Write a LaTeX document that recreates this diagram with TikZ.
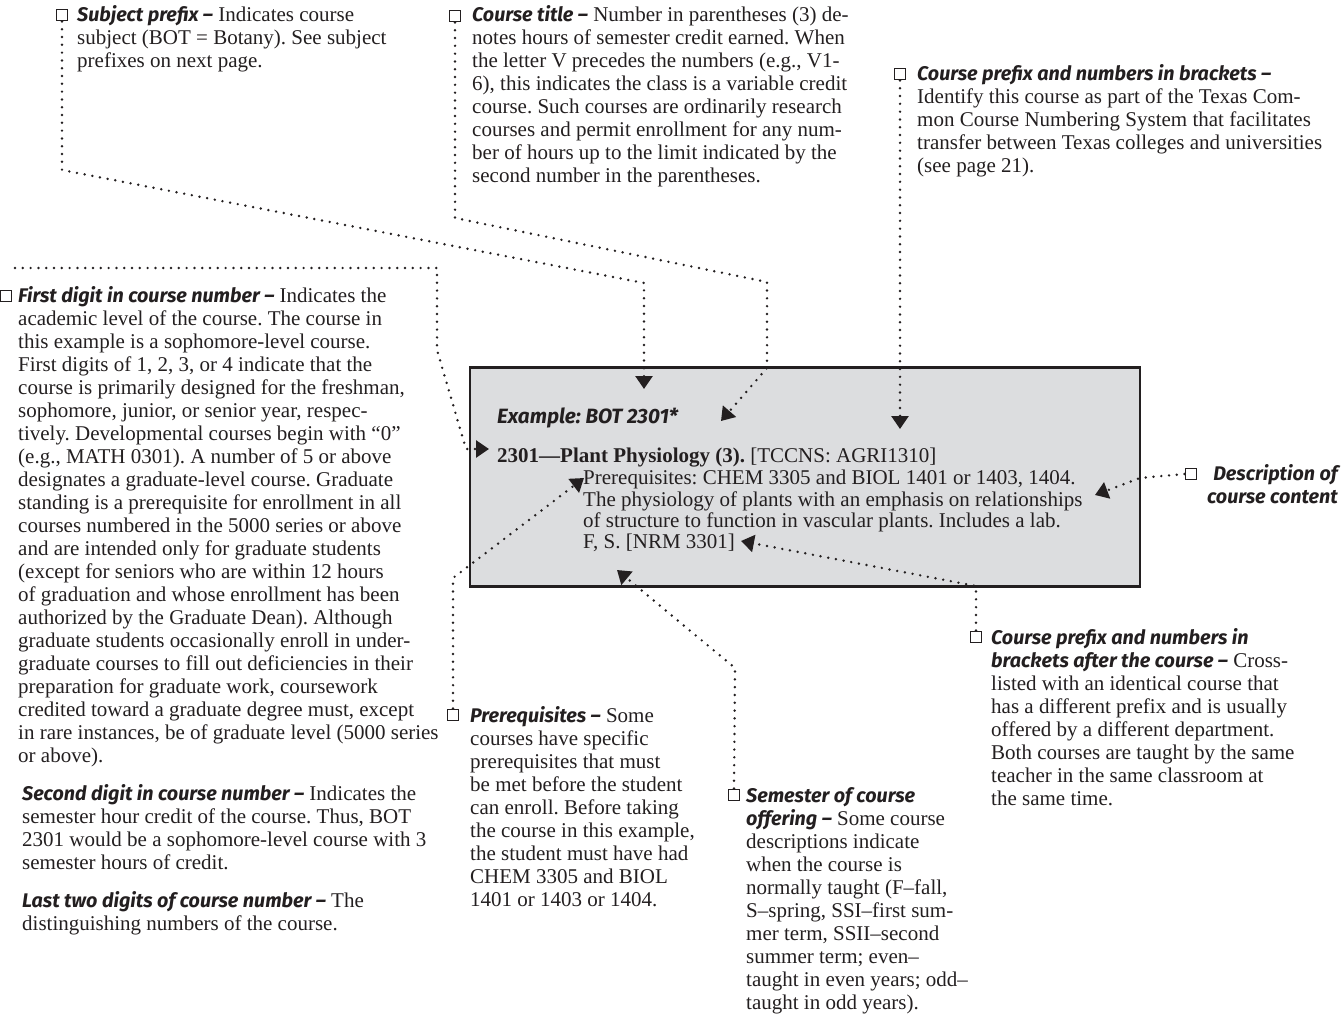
\documentclass[tikz,border=0pt]{standalone}
\usepackage{fontspec}
\setmainfont{Liberation Serif}
\setsansfont{Fira Sans}[Scale=0.94]
\usetikzlibrary{arrows.meta}
\frenchspacing

\definecolor{ink}{RGB}{35,31,32}
\definecolor{panelgray}{RGB}{220,221,223}

\newcommand{\notesize}{\fontsize{21}{23}\selectfont}
\newcommand{\panelsize}{\fontsize{21}{21}\selectfont}
\newcommand{\hd}[1]{{\sffamily\bfseries\itshape #1}}

\tikzset{
  note/.style={anchor=north west, align=left, inner sep=0pt, text=ink, font=\notesize},
  paneltext/.style={note, font=\panelsize},
  marker/.style={draw=ink, line width=1.9pt, minimum size=11pt, inner sep=0pt},
  leader/.style={draw=ink, line width=2.7pt, line cap=round, dash pattern=on 0pt off 7.8pt},
  pointer/.style={leader, -{Triangle[length=13pt,width=17pt]}},
  panel/.style={draw=ink, fill=panelgray, line width=2.6pt, minimum width=670pt,
    minimum height=219pt, inner sep=0pt},
}

\begin{document}
\begin{tikzpicture}[x=1pt,y=-1pt]
\useasboundingbox (0,0) rectangle (1344,1035);

% the sample catalogue entry
\node[panel] (panel) at (805,477) {};
\node[anchor=base west, inner sep=0pt, text=ink, font=\fontsize{22}{22}\selectfont\sffamily\bfseries\itshape]
  (example) at (497,423) {Example: BOT 2301*};
\node[anchor=base west, inner sep=0pt, text=ink, font=\panelsize]
  (entry) at (497,462) {\textbf{2301—Plant Physiology (3).} [TCCNS: AGRI1310]};
\node[paneltext] (entrybody) at (583,470) {\strut Prerequisites: CHEM 3305 and BIOL 1401 or 1403, 1404.\\
  The physiology of plants with an emphasis on relationships\\
  of structure to function in vascular plants. Includes a lab.\\
  F, S. [NRM 3301]};

% annotations
\node[note] (subject) at (77,5) {\strut\hd{Subject prefix –} Indicates course\\
  subject (BOT = Botany). See subject\\
  prefixes on next page.};
\node[note] (title) at (472,5) {\strut\hd{Course title –} Number in parentheses (3) de-\\
  notes hours of semester credit earned. When\\
  the letter V precedes the numbers (e.g., V1-\\
  6), this indicates the class is a variable credit\\
  course. Such courses are ordinarily research\\
  courses and permit enrollment for any num-\\
  ber of hours up to the limit indicated by the\\
  second number in the parentheses.};
\node[note] (tccns) at (917,64) {\strut\hd{Course prefix and numbers in brackets –}\\
  Identify this course as part of the Texas Com-\\
  mon Course Numbering System that facilitates\\
  transfer between Texas colleges and universities\\
  (see page 21).};
\node[note] (firstdigit) at (18,286) {\strut\hd{First digit in course number –} Indicates the\\
  academic level of the course. The course in\\
  this example is a sophomore-level course.\\
  First digits of 1, 2, 3, or 4 indicate that the\\
  course is primarily designed for the freshman,\\
  sophomore, junior, or senior year, respec-\\
  tively. Developmental courses begin with “0”\\
  (e.g., MATH 0301). A number of 5 or above\\
  designates a graduate-level course. Graduate\\
  standing is a prerequisite for enrollment in all\\
  courses numbered in the 5000 series or above\\
  and are intended only for graduate students\\
  (except for seniors who are within 12 hours\\
  of graduation and whose enrollment has been\\
  authorized by the Graduate Dean). Although\\
  graduate students occasionally enroll in under-\\
  graduate courses to fill out deficiencies in their\\
  preparation for graduate work, coursework\\
  credited toward a graduate degree must, except\\
  in rare instances, be of graduate level (5000 series\\
  or above).};
\node[note] (seconddigit) at (22,784) {\strut\hd{Second digit in course number –} Indicates the\\
  semester hour credit of the course. Thus, BOT\\
  2301 would be a sophomore-level course with 3\\
  semester hours of credit.};
\node[note] (lastdigits) at (22,891) {\strut\hd{Last two digits of course number –} The\\
  distinguishing numbers of the course.};
\node[note] (prereq) at (470,706) {\strut\hd{Prerequisites –} Some\\
  courses have specific\\
  prerequisites that must\\
  be met before the student\\
  can enroll. Before taking\\
  the course in this example,\\
  the student must have had\\
  CHEM 3305 and BIOL\\
  1401 or 1403 or 1404.};
\node[note] (semester) at (746,786) {\strut\hd{Semester of course}\\
  \hd{offering –} Some course\\
  descriptions indicate\\
  when the course is\\
  normally taught (F–fall,\\
  S–spring, SSI–first sum-\\
  mer term, SSII–second\\
  summer term; even–\\
  taught in even years; odd–\\
  taught in odd years).};
\node[note] (crosslist) at (991,628) {\strut\hd{Course prefix and numbers in}\\
  \hd{brackets after the course –} Cross-\\
  listed with an identical course that\\
  has a different prefix and is usually\\
  offered by a different department.\\
  Both courses are taught by the same\\
  teacher in the same classroom at\\
  the same time.};
\node[note, anchor=north east, align=right]
  (content) at (1338,464) {\strut\hd{Description of}\\ \hd{course content}};

% markers in front of the headings
\node[marker] (msubject) at (62,15) {};
\node[marker] (mtitle) at (455,16) {};
\node[marker] (mtccns) at (900,74) {};
\node[marker] (mfirst) at (6,296) {};
\node[marker] (mprereq) at (453,715) {};
\node[marker] (msemester) at (734,795) {};
\node[marker] (mcross) at (976,637) {};
\node[marker] (mcontent) at (1191,474) {};

% bends and tips of the leaders
\coordinate (subjA) at (62,170);
\coordinate (subjB) at (644,283);
\coordinate (subjtip) at (644,389);
\coordinate (titleA) at (455,218);
\coordinate (titleB) at (767,282);
\coordinate (titleC) at (767,368);
\coordinate (titletip) at (721,421);
\coordinate (tccnstip) at (900,429);
\coordinate (firstA) at (15,268);
\coordinate (firstB) at (437,268);
\coordinate (firstC) at (437,350);
\coordinate (firstD) at (466,449);
\coordinate (firsttip) at (489,449);
\coordinate (prereqA) at (453,578);
\coordinate (prereqtip) at (584,478);
\coordinate (semesterA) at (735,668);
\coordinate (semestertip) at (617,570);
\coordinate (crossA) at (976,586);
\coordinate (crosstip) at (741,541);
\coordinate (contentA) at (1140,478);
\coordinate (contenttip) at (1095,495);

\draw[pointer] (msubject.south) -- (subjA) -- (subjB) -- (subjtip);
\draw[pointer] (mtitle.south) -- (titleA) -- (titleB) -- (titleC) -- (titletip);
\draw[pointer] (mtccns.south) -- (tccnstip);
\draw[pointer] (firstA) -- (firstB) -- (firstC) -- (firstD) -- (firsttip);
\draw[pointer] (mprereq.north) -- (prereqA) -- (prereqtip);
\draw[pointer] (msemester.north) -- (semesterA) -- (semestertip);
\draw[pointer] (mcross.north) -- (crossA) -- (crosstip);
\draw[pointer] (mcontent.west) -- (contentA) -- (contenttip);
\end{tikzpicture}
\end{document}
